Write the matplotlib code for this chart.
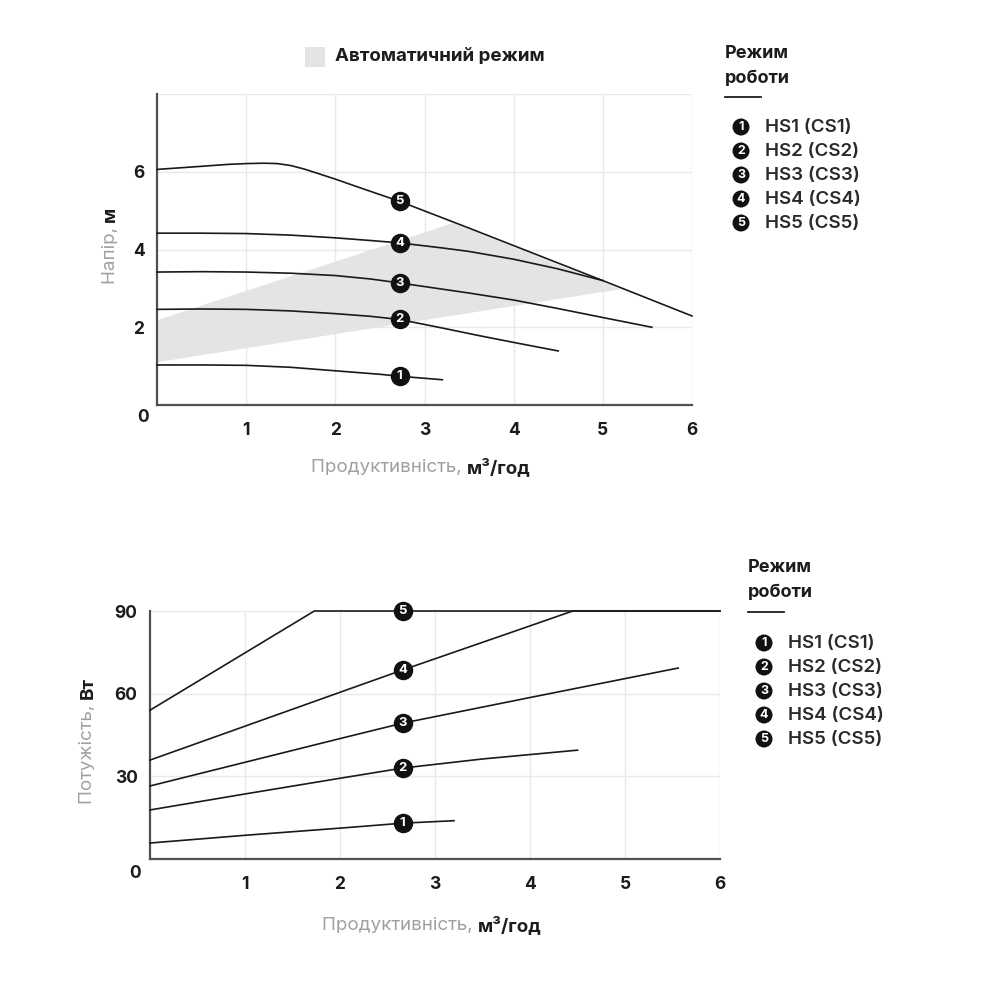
import numpy as np
import matplotlib
matplotlib.use("Agg")
import matplotlib.pyplot as plt
from matplotlib.patches import Rectangle

plt.rcParams['font.family'] = ['Inter', 'DejaVu Sans']

# head curves, m  (x: m3/h)
q1 = [0, 0.5, 1.0, 1.5, 2.0, 2.5, 2.72, 3.2]
h1 = [1.03, 1.03, 1.02, 0.97, 0.88, 0.79, 0.74, 0.65]
q2 = [0, 0.5, 1.0, 1.5, 2.0, 2.4, 2.72, 3.2, 3.6, 4.0, 4.5]
h2 = [2.46, 2.47, 2.46, 2.42, 2.35, 2.28, 2.20, 1.98, 1.79, 1.61, 1.39]
q3 = [0, 0.5, 1.0, 1.5, 2.0, 2.4, 2.72, 3.2, 3.5, 4.0, 4.5, 5.0, 5.55]
h3 = [3.42, 3.43, 3.42, 3.39, 3.33, 3.24, 3.14, 2.98, 2.88, 2.70, 2.48, 2.25, 2.0]
q4 = [0, 0.5, 1.0, 1.5, 2.0, 2.4, 2.72, 3.2, 3.5, 4.0, 4.5, 5.0]
h4 = [4.42, 4.42, 4.41, 4.37, 4.30, 4.23, 4.17, 4.04, 3.95, 3.75, 3.50, 3.20]
q5 = [0, 0.5, 0.8, 1.0, 1.2, 1.35, 1.5, 1.65, 1.8, 2.0, 2.3, 2.72, 3.5, 4.0, 5.0, 6.0]
h5 = [6.06, 6.14, 6.19, 6.21, 6.22, 6.21, 6.16, 6.07, 5.96, 5.81, 5.57, 5.24, 4.55, 4.10, 3.20, 2.29]
head_curves = [(q1, h1), (q2, h2), (q3, h3), (q4, h4), (q5, h5)]
head_mark_q = [2.72, 2.72, 2.72, 2.72, 2.72]
head_mark_h = [0.74, 2.20, 3.14, 4.17, 5.24]

# automatic mode zone
auto_q = [0, 3.32, 5.2, 0]
auto_h = [2.18, 4.68, 2.98, 1.10]

# power curves, W
pq1 = [0, 1, 2, 2.66, 3.2]
pw1 = [5.8, 8.6, 11.2, 13.0, 13.9]
pq2 = [0, 1, 2, 2.66, 3.5, 4.5]
pw2 = [17.8, 23.6, 29.3, 33.0, 36.3, 39.5]
pq3 = [0, 1, 2, 2.66, 4, 5.56]
pw3 = [26.5, 35.1, 43.7, 49.3, 58.6, 69.3]
pq4 = [0, 1, 2, 2.66, 4, 4.45, 6]
pw4 = [35.9, 48.2, 60.5, 68.6, 84.6, 90, 90]
pq5 = [0, 1.73, 6]
pw5 = [54.0, 90, 90]
power_curves = [(pq1, pw1), (pq2, pw2), (pq3, pw3), (pq4, pw4), (pq5, pw5)]
power_mark_q = [2.66, 2.66, 2.66, 2.66, 2.66]
power_mark_w = [13.0, 33.0, 49.3, 68.6, 90]

modes = ['HS1 (CS1)', 'HS2 (CS2)', 'HS3 (CS3)', 'HS4 (CS4)', 'HS5 (CS5)']

DARK = '#1c1c1c'
GREY = '#a0a0a0'
GRID = '#e9e9e9'
FS = 13.5


def style_axes(ax, yticks, ylim, ypad):
    ax.set_xlim(0, 6)
    ax.set_ylim(*ylim)
    for s in ['top', 'right']:
        ax.spines[s].set_visible(False)
    for s in ['left', 'bottom']:
        ax.spines[s].set_color('#505050')
        ax.spines[s].set_linewidth(1.6)
    ax.set_xticks([1, 2, 3, 4, 5, 6])
    ax.set_yticks(yticks)
    ax.tick_params(length=0, labelsize=12.5, colors=DARK)
    ax.tick_params(axis='x', pad=12)
    ax.tick_params(axis='y', pad=ypad)
    for lab in ax.get_xticklabels() + ax.get_yticklabels():
        lab.set_fontweight('bold')
    ax.grid(True, color=GRID, linewidth=1.0)
    ax.set_axisbelow(True)


def draw_marker(ax, x, y, n):
    ax.plot(x, y, 'o', ms=13, color='#111111', clip_on=False, zorder=5)
    ax.text(x, y, str(n), color='white', fontsize=9.5, fontweight='bold',
            ha='center', va='center', zorder=6)


def mode_legend(fig, x, y_title, y_items):
    fig.text(x, y_title, 'Режим', fontsize=13, fontweight='bold',
             color=DARK, ha='left', va='center')
    fig.text(x, y_title - 0.025, 'роботи', fontsize=13, fontweight='bold',
             color=DARK, ha='left', va='center')
    fig.add_artist(plt.Line2D([x, x + 0.036], [y_title - 0.044, y_title - 0.044],
                              color=DARK, lw=1.3))
    for i, name in enumerate(modes):
        yy = y_items - i * 0.024
        fig.text(x + 0.016, yy, str(i + 1), fontsize=9, fontweight='bold',
                 color='white', ha='center', va='center',
                 bbox=dict(boxstyle='circle,pad=0.2', fc='#111111', ec='none'))
        fig.text(x + 0.040, yy, name, fontsize=FS, fontweight='semibold',
                 color='#2a2a2a', ha='left', va='center')


fig = plt.figure(figsize=(10, 10), dpi=100)

# ---- head chart
ax1 = fig.add_axes([0.157, 0.595, 0.535, 0.311])
style_axes(ax1, [2, 4, 6, 8], (0, 8), 9)
ax1.set_yticklabels(['2', '4', '6', ''])
ax1.fill(auto_q, auto_h, color='#e4e4e4', lw=0, zorder=1)
for q, h in head_curves:
    ax1.plot(q, h, color='#1a1a1a', lw=1.2, zorder=3, clip_on=False)
for i in range(5):
    draw_marker(ax1, head_mark_q[i], head_mark_h[i], i + 1)
ax1.annotate('0', xy=(0, 0), xycoords='axes fraction', xytext=(-14, -13),
             textcoords='offset pixels', ha='center', va='center',
             fontsize=12.5, fontweight='bold', color=DARK)
ax1.text(0.58, -0.2, 'Продуктивність, ', transform=ax1.transAxes, ha='right',
         va='center', fontsize=FS, color=GREY)
ax1.text(0.58, -0.2, 'м³/год', transform=ax1.transAxes, ha='left',
         va='center', fontsize=FS, color=DARK, fontweight='bold')
ax1.text(-0.087, 0.588, 'Напір, ', transform=ax1.transAxes, ha='right',
         va='center', rotation=90, rotation_mode='anchor', fontsize=FS, color=GREY)
ax1.text(-0.087, 0.588, 'м', transform=ax1.transAxes, ha='left',
         va='center', rotation=90, rotation_mode='anchor', fontsize=FS,
         color=DARK, fontweight='bold')

# automatic mode legend
fig.add_artist(Rectangle((0.305, 0.933), 0.020, 0.020, transform=fig.transFigure,
                         fc='#e4e4e4', ec='none'))
fig.text(0.335, 0.943, 'Автоматичний режим', fontsize=13.5, fontweight='bold',
         color=DARK, ha='left', va='center')

mode_legend(fig, 0.725, 0.947, 0.873)

# ---- power chart
ax2 = fig.add_axes([0.150, 0.141, 0.570, 0.248])
style_axes(ax2, [30, 60, 90], (0, 90), 9)
for q, w in power_curves:
    ax2.plot(q, w, color='#1a1a1a', lw=1.2, zorder=3, clip_on=False)
for i in range(5):
    draw_marker(ax2, power_mark_q[i], power_mark_w[i], i + 1)
ax2.annotate('0', xy=(0, 0), xycoords='axes fraction', xytext=(-15, -14),
             textcoords='offset pixels', ha='center', va='center',
             fontsize=12.5, fontweight='bold', color=DARK)
ax2.text(0.575, -0.27, 'Продуктивність, ', transform=ax2.transAxes, ha='right',
         va='center', fontsize=FS, color=GREY)
ax2.text(0.575, -0.27, 'м³/год', transform=ax2.transAxes, ha='left',
         va='center', fontsize=FS, color=DARK, fontweight='bold')
ax2.text(-0.109, 0.645, 'Потужість, ', transform=ax2.transAxes, ha='right',
         va='center', rotation=90, rotation_mode='anchor', fontsize=FS, color=GREY)
ax2.text(-0.109, 0.645, 'Вт', transform=ax2.transAxes, ha='left',
         va='center', rotation=90, rotation_mode='anchor', fontsize=FS,
         color=DARK, fontweight='bold')

mode_legend(fig, 0.748, 0.432, 0.357)

fig.savefig('out.png', dpi=100, facecolor='white')
